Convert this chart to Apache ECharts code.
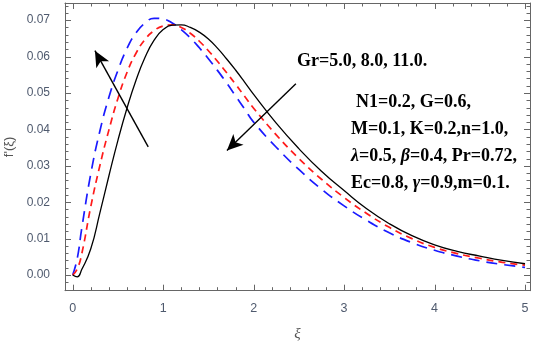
<!DOCTYPE html>
<html>
<head>
<meta charset="utf-8">
<script src="https://cdn.jsdelivr.net/npm/echarts@6/dist/echarts.min.js"></script>
<style>
  html, body { margin: 0; padding: 0; background: #fff; }
  #chart { width: 536px; height: 342px; }
</style>
</head>
<body>
<div id="chart"></div>
<script>
// xi grid shared by all three curves
const xi = [0, 0.05, 0.1, 0.2, 0.3, 0.4, 0.5, 0.6, 0.7, 0.8, 0.9, 1.0, 1.1, 1.2, 1.3, 1.4, 1.5,
  1.6, 1.7, 1.8, 1.9, 2.0, 2.25, 2.5, 2.75, 3.0, 3.25, 3.5, 3.75, 4.0, 4.25, 4.5, 4.75, 5.0];

// f'(xi)
const grBlack = [0, -0.0005, 0.0015, 0.0072, 0.017, 0.0272, 0.0370, 0.0458, 0.0535, 0.0598, 0.0645, 0.0674,
  0.0686, 0.0687, 0.0680, 0.0667, 0.0648, 0.0623, 0.0594, 0.0563, 0.0530, 0.0496,
  0.0417, 0.0347, 0.0285, 0.0232, 0.0182, 0.0141, 0.0108, 0.0083, 0.0065, 0.0052, 0.0040, 0.0031];
const grRed = [0, 0.0017, 0.0058, 0.0188, 0.0300, 0.0398, 0.0485, 0.0556, 0.0609, 0.0647, 0.0671, 0.0684,
  0.0687, 0.0680, 0.0664, 0.0642, 0.0616, 0.0587, 0.0556, 0.0524, 0.0491, 0.0458,
  0.0385, 0.0320, 0.0263, 0.0213, 0.0169, 0.0131, 0.0100, 0.0076, 0.0059, 0.0046, 0.0035, 0.0027];
const grBlue = [0, 0.0045, 0.0128, 0.0278, 0.0395, 0.0488, 0.0562, 0.0622, 0.0665, 0.0692, 0.0705, 0.0703,
  0.0692, 0.0674, 0.0651, 0.0624, 0.0594, 0.0562, 0.0528, 0.0492, 0.0456, 0.0420,
  0.0351, 0.0290, 0.0236, 0.0190, 0.0150, 0.0116, 0.0089, 0.0068, 0.0052, 0.0039, 0.0029, 0.0021];

// tick values
const xMajor = [0, 1, 2, 3, 4, 5];
const xMinor = [0.2, 0.4, 0.6, 0.8, 1.2, 1.4, 1.6, 1.8, 2.2, 2.4, 2.6, 2.8,
  3.2, 3.4, 3.6, 3.8, 4.2, 4.4, 4.6, 4.8];
const yMajor = [0, 0.01, 0.02, 0.03, 0.04, 0.05, 0.06, 0.07];
const yMinor = [-0.004, -0.002, 0.002, 0.004, 0.006, 0.008, 0.012, 0.014, 0.016, 0.018,
  0.022, 0.024, 0.026, 0.028, 0.032, 0.034, 0.036, 0.038, 0.042, 0.044, 0.046, 0.048,
  0.052, 0.054, 0.056, 0.058, 0.062, 0.064, 0.066, 0.068, 0.072, 0.074];

// arrows: [tail, head] in data coords
const arrowUp = [[0.835, 0.0352], [0.246, 0.0616]];
const arrowDown = [[2.467, 0.0525], [1.705, 0.0342]];

const frameColor = '#666';
const labelColor = '#4f5a6e';
const X_MIN = -0.085, X_MAX = 5.055, Y_MIN = -0.0043, Y_MAX = 0.0747;
const MAJOR_LEN = 6, MINOR_LEN = 3.5;

function xAx(pos, labels) {
  return {
    type: 'value', position: pos, min: X_MIN, max: X_MAX,
    axisLine: { show: true, onZero: false, lineStyle: { color: frameColor, width: 1 } },
    splitLine: { show: false },
    axisTick: { show: false },
    axisLabel: labels ? { show: true, customValues: xMajor, color: labelColor,
      fontFamily: 'Liberation Sans', fontSize: 12.5, margin: 11 } : { show: false }
  };
}
function yAx(pos, labels) {
  return {
    type: 'value', position: pos, min: Y_MIN, max: Y_MAX,
    axisLine: { show: true, onZero: false, lineStyle: { color: frameColor, width: 1 } },
    splitLine: { show: false },
    axisTick: { show: false },
    axisLabel: labels ? { show: true, customValues: yMajor, color: labelColor,
      fontFamily: 'Liberation Sans', fontSize: 12, margin: 15,
      formatter: v => v.toFixed(2) } : { show: false }
  };
}

const xAxes = [xAx('bottom', true), xAx('top', false)];
xAxes[0].name = 'ξ';
xAxes[0].nameLocation = 'middle';
xAxes[0].nameGap = 36;
xAxes[0].nameTextStyle = { fontFamily: 'Liberation Serif', fontStyle: 'italic', fontSize: 15, color: '#555' };

const yAxes = [yAx('left', true), yAx('right', false)];
yAxes[0].name = "f'(ξ)";
yAxes[0].nameLocation = 'middle';
yAxes[0].nameGap = 47;
yAxes[0].nameRotate = 90;
yAxes[0].nameTextStyle = { fontFamily: 'Liberation Sans', fontSize: 13, color: '#555' };

function pairs(ys) { return xi.map((x, i) => [x, ys[i]]); }

// inward frame ticks on all four sides, placed through the axes' scales
const xTickData = xMajor.map(v => [v, 0, MAJOR_LEN]).concat(xMinor.map(v => [v, 0, MINOR_LEN]));
const yTickData = yMajor.map(v => [0, v, MAJOR_LEN]).concat(yMinor.map(v => [0, v, MINOR_LEN]));

function tickLine(x1, y1, x2, y2) {
  return { type: 'line', shape: { x1: x1, y1: y1, x2: x2, y2: y2 },
    style: { stroke: frameColor, lineWidth: 1, fill: null } };
}
function xTick(params, api) {
  const len = api.value(2);
  const b = api.coord([api.value(0), Y_MIN]);
  const t = api.coord([api.value(0), Y_MAX]);
  const x = Math.round(b[0]) + 0.5;
  return { type: 'group', children: [
    tickLine(x, b[1], x, b[1] - len),
    tickLine(x, t[1], x, t[1] + len)
  ] };
}
function yTick(params, api) {
  const len = api.value(2);
  const l = api.coord([X_MIN, api.value(1)]);
  const r = api.coord([X_MAX, api.value(1)]);
  const y = Math.round(l[1]) + 0.5;
  return { type: 'group', children: [
    tickLine(l[0], y, l[0] + len, y),
    tickLine(r[0], y, r[0] - len, y)
  ] };
}

const bold = 'bold 18px "Liberation Serif"';
const boldIt = 'bold italic 18px "Liberation Serif"';
const richStyle = { g: { font: boldIt, fill: '#000' }, t: { font: bold, fill: '#000' } };

const lineBase = { type: 'line', xAxisIndex: 0, yAxisIndex: 0, smooth: 0.5, showSymbol: false };

const chart = echarts.init(document.getElementById('chart'));
chart.setOption({
  animation: false,
  grid: { left: 65, right: 6, top: 3, bottom: 51.3, outerBoundsMode: 'none', containLabel: false },
  xAxis: xAxes,
  yAxis: yAxes,
  series: [
    {
      type: 'custom', coordinateSystem: 'cartesian2d', xAxisIndex: 0, yAxisIndex: 0,
      silent: true, clip: false, z: 5,
      dimensions: ['x', 'y', 'len'],
      data: xTickData, encode: { x: 0, y: 1 }, renderItem: xTick
    },
    {
      type: 'custom', coordinateSystem: 'cartesian2d', xAxisIndex: 0, yAxisIndex: 0,
      silent: true, clip: false, z: 5,
      dimensions: ['x', 'y', 'len'],
      data: yTickData, encode: { x: 0, y: 1 }, renderItem: yTick
    },
    Object.assign({}, lineBase, {
      data: pairs(grBlack),
      lineStyle: { color: '#000', width: 1.3, type: 'solid' },
      z: 4,
      markLine: {
        silent: true, symbol: ['none', 'arrow'], symbolSize: [11, 16],
        label: { show: false },
        lineStyle: { color: '#000', width: 1.4, type: 'solid' },
        data: [
          [{ coord: arrowUp[0] }, { coord: arrowUp[1] }],
          [{ coord: arrowDown[0] }, { coord: arrowDown[1] }]
        ]
      }
    }),
    Object.assign({}, lineBase, {
      data: pairs(grRed),
      lineStyle: { color: '#ff1a1a', width: 1.7, type: [7, 5] }, z: 3
    }),
    Object.assign({}, lineBase, {
      data: pairs(grBlue),
      lineStyle: { color: '#1a1aff', width: 1.7, type: [11, 7] }, z: 2
    })
  ],
  graphic: [
    { type: 'text', left: 297, top: 52,
      style: { text: 'Gr=5.0, 8.0, 11.0.', font: bold, fill: '#000' } },
    { type: 'text', left: 356, top: 93,
      style: { text: 'N1=0.2, G=0.6,', font: bold, fill: '#000' } },
    { type: 'text', left: 351, top: 120,
      style: { text: 'M=0.1, K=0.2,n=1.0,', font: bold, fill: '#000' } },
    { type: 'text', left: 351, top: 147,
      style: { rich: richStyle, text: '{g|λ}{t|=0.5, }{g|β}{t|=0.4, Pr=0.72,}' } },
    { type: 'text', left: 351, top: 174,
      style: { rich: richStyle, text: '{t|Ec=0.8, }{g|γ}{t|=0.9,m=0.1.}' } }
  ]
});
</script>
</body>
</html>
